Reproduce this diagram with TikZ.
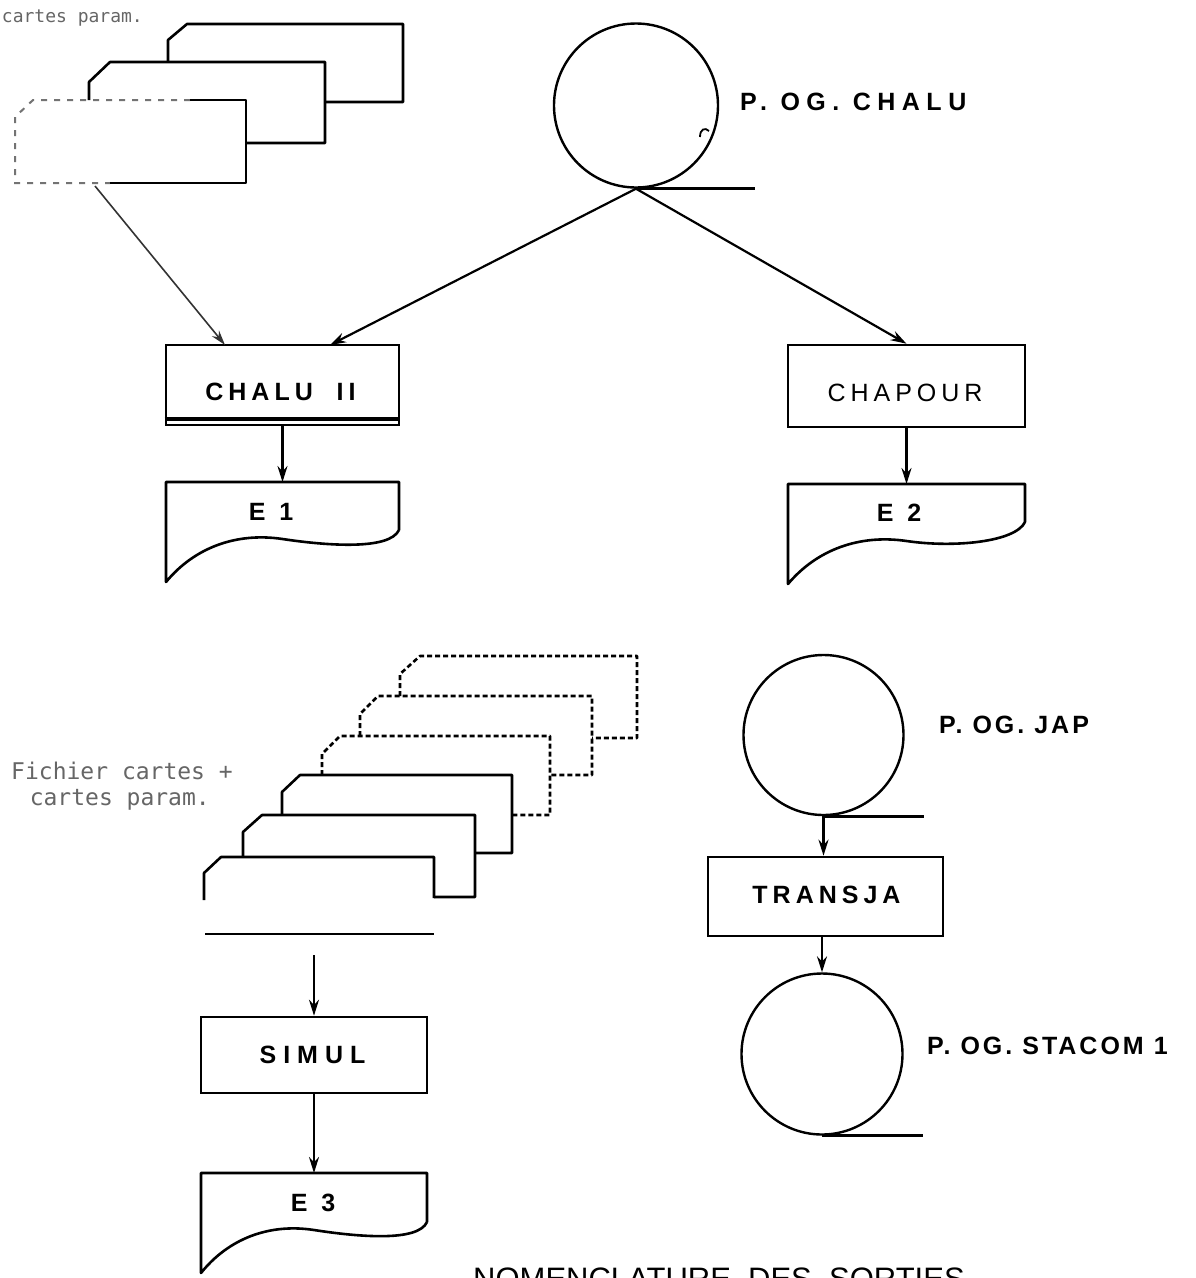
\documentclass[tikz,border=0pt]{standalone}
\usepackage{fontspec}
\setmainfont{Liberation Sans}
\newfontfamily\typefont{DejaVu Sans Mono}
\usetikzlibrary{arrows.meta}
\newcommand\docshape[4]{% left right top rightheight
  \draw[ln] (#2,{#3+#4}) -- (#2,#3) -- (#1,#3) -- (#1,{#3+100})
    .. controls ({#1+0.12*(#2-#1)},{#3+66}) and ({#1+0.3*(#2-#1)},{#3+50}) .. ({#1+0.5*(#2-#1)},{#3+57})
    .. controls ({#1+0.7*(#2-#1)},{#3+64}) and ({#2-0.04*(#2-#1)},{#3+#4+20}) .. (#2,{#3+#4});}
\begin{document}
\begin{tikzpicture}[x=1pt,y=-1pt,
  ln/.style={line width=2.6pt, line join=round},
  fadeln/.style={line width=2pt, black!55, dash pattern=on 6pt off 7pt},
  dashcard/.style={line width=2.6pt, line join=round, dash pattern=on 5pt off 3pt},
  procbox/.style={draw, rectangle, line width=2.6pt, inner sep=0pt},
  reel/.style={draw, circle, line width=2.4pt, inner sep=0pt},
  arr/.style={line width=2.2pt, -{Stealth[length=16pt,width=10pt]}},
  arrthin/.style={line width=1.6pt, black!80, -{Stealth[length=15pt,width=9pt]}},
  boxtxt/.style={inner sep=0pt, font=\fontsize{25}{25}\selectfont\bfseries\addfontfeature{LetterSpace=20}},
  boxtxts/.style={inner sep=0pt, font=\fontsize{25}{25}\selectfont\bfseries\addfontfeature{LetterSpace=28}},
  boxtxtr/.style={inner sep=0pt, font=\fontsize{25}{25}\selectfont\addfontfeature{LetterSpace=20}},
  etxt/.style={inner sep=0pt, font=\fontsize{25}{25}\selectfont\bfseries},
  lbl/.style={inner sep=0pt, anchor=west, font=\fontsize{25}{25}\selectfont\bfseries\addfontfeature{LetterSpace=#1}},
  typed/.style={inner sep=0pt, text=black!60, font=\typefont\fontsize{23}{23}\selectfont}
]
\fill[white] (0,0) rectangle (1195,1278);
\useasboundingbox (0,0) rectangle (1195,1278);

% ---- top-left card deck ----
\node[typed, anchor=east, font=\typefont\fontsize{18}{18}\selectfont] (ttl) at (143,18) {cartes param.};
\draw[ln] (168,62) -- (168,40) -- (187,24) -- (403,24) -- (403,102) -- (325,102);
\draw[ln] (89,100) -- (89,82) -- (110,62) -- (325,62) -- (325,143) -- (246,143);
\draw[fadeln] (190,100) -- (33,100) -- (15,117) -- (15,183) -- (110,183);
\draw[ln] (110,183) -- (246,183) -- (246,100) -- (190,100);
\coordinate (deckA) at (95,186);

% ---- reel P. OG. CHALU ----
\node[reel, minimum size=164pt] (chalureel) at (636,105.5) {};
\draw[ln] (chalureel.south) -- ++(119,0);
\draw[line width=1.8pt] (700,137) .. controls (700,129) and (705,127) .. (709,131);
\node[lbl=26] (lchalu) at (740,102) {P. OG. CHALU};

% ---- CHALU II ----
\node[procbox, minimum width=233pt, minimum height=80pt] (chalu) at (282.5,385) {};
\draw[line width=3.8pt] ([yshift=7pt]chalu.south west) -- ([yshift=7pt]chalu.south east);
\node[boxtxt] (chalut) at (280.5,392) {CHALU\ \ II};
\coordinate (chaluin) at (330,345);
\coordinate (chaluin2) at (225,345);
\draw[arrthin] (deckA) -- (chaluin2);
\draw[arr] (chalureel.south) -- (chaluin);

% ---- CHAPOUR ----
\node[procbox, minimum width=237pt, minimum height=82pt] (chapour) at (906.5,386) {};
\node[boxtxtr] (chapourt) at (905,393) {CHAPOUR};
\draw[arr] (chalureel.south) -- (chapour.north);

% ---- E1, E2 ----
\docshape{166}{399}{482}{48}
\coordinate (e1top) at (282.5,482);
\node[etxt] (e1) at (271,512) {E\ \ 1};
\draw[arr] (chalu.south) -- (e1top);
\docshape{788}{1025}{484}{38}
\coordinate (e2top) at (906.5,484);
\node[etxt] (e2) at (899,513) {E\ \ 2};
\draw[arr] (chapour.south) -- (e2top);

% ---- bottom card deck ----
\node[typed, anchor=east] (tf1) at (233,771) {Fichier cartes +};
\node[typed, anchor=east] (tf2) at (210,800) {cartes param.};
\draw[dashcard] (400,696) -- (400,674) -- (420,656) -- (637,656) -- (637,738) -- (592,738);
\draw[dashcard] (360,736) -- (360,714) -- (378,696) -- (592,696) -- (592,775) -- (550,775);
\draw[dashcard] (322,775) -- (322,754) -- (340,736) -- (550,736) -- (550,815) -- (512,815);
\draw[ln] (282,815) -- (282,792) -- (300,775) -- (512,775) -- (512,853) -- (475,853);
\draw[ln] (243,857) -- (243,832) -- (262,815) -- (475,815) -- (475,897) -- (434,897);
\draw[ln] (204,900) -- (204,873) -- (221,857) -- (434,857) -- (434,898);
\draw[line width=2.8pt] (205,934) -- (434,934);
\coordinate (deckB) at (314,955);

% ---- SIMUL, E3 ----
\node[procbox, minimum width=226pt, minimum height=76pt] (simul) at (314,1055) {};
\node[boxtxts] (simult) at (312.5,1055) {SIMUL};
\draw[arr] (deckB) -- (simul.north);
\docshape{201}{427}{1173}{49}
\coordinate (e3top) at (314,1173);
\node[etxt] (e3) at (313,1203) {E\ \ 3};
\draw[arr] (simul.south) -- (e3top);

% ---- right column ----
\node[reel, minimum size=160pt] (jap) at (823.5,735) {};
\draw[ln] (jap.south) -- ++(100,0);
\node[lbl=12] (ljap) at (939,725) {P. OG. JAP};
\node[procbox, minimum width=235pt, minimum height=79pt] (transja) at (825.5,896.5) {};
\node[boxtxt] (transjat) at (826.5,895) {TRANSJA};
\draw[arr] (jap.south) -- (jap.south |- transja.north);
\node[reel, minimum size=161pt] (stacom) at (822,1054) {};
\draw[ln] (stacom.south) -- ++(101,0);
\draw[arr] (transja.south -| stacom.north) -- (stacom.north);
\node[lbl=12] (lstacom) at (927,1046) {P. OG. STACOM 1};

% ---- title (cut by the page edge, as in the reference) ----
\node[anchor=north west, inner sep=0pt, font=\fontsize{31}{31}\selectfont] (nomen) at (473,1268) {NOMENCLATURE\ \ DES\ \ SORTIES};
\end{tikzpicture}
\end{document}
